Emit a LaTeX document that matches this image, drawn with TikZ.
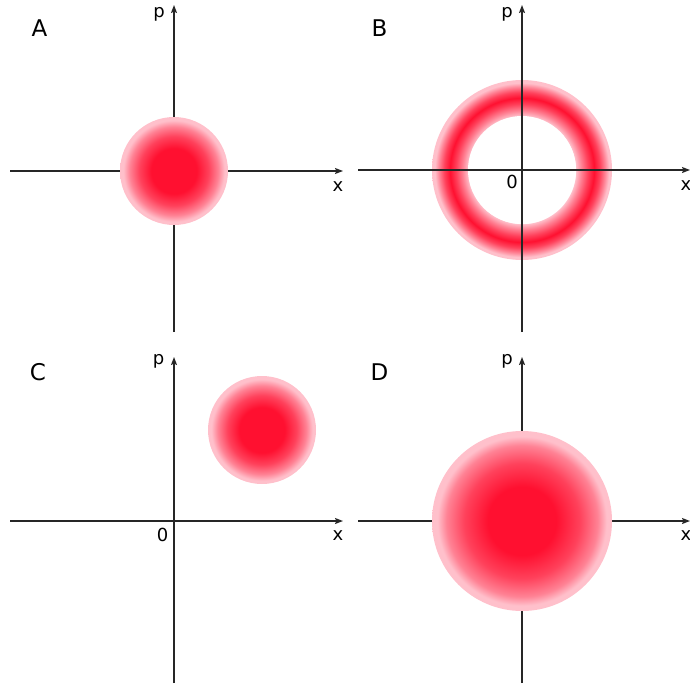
\documentclass[tikz,border=0pt]{standalone}
\usepackage{fontspec}
\setmainfont{DejaVu Sans}
\usetikzlibrary{arrows.meta}
\definecolor{cred}{RGB}{255,16,48}
\definecolor{cpink}{RGB}{255,192,203}
\colorlet{cmidA}{cred!72!cpink}
\colorlet{cmidB}{cred!35!cpink}
\pgfdeclareradialshading{blobsmall}{\pgfpoint{0bp}{0bp}}{color(0bp)=(cred); color(10.5bp)=(cred); color(16bp)=(cmidA); color(20.5bp)=(cmidB); color(23.5bp)=(cpink); color(25bp)=(cpink); color(50bp)=(cpink)}
\pgfdeclareradialshading{blobbig}{\pgfpoint{0bp}{0bp}}{color(0bp)=(cred); color(9.5bp)=(cred); color(16bp)=(cmidA); color(21bp)=(cmidB); color(23.5bp)=(cpink); color(25bp)=(cpink); color(50bp)=(cpink)}
\pgfdeclareradialshading{ringshade}{\pgfpoint{0bp}{0bp}}{color(0bp)=(white); color(14.9bp)=(white); color(15bp)=(cpink); color(16.5bp)=(cmidB); color(18.3bp)=(cmidA); color(20bp)=(cred); color(21.6bp)=(cmidA); color(23bp)=(cmidB); color(24.2bp)=(cpink); color(25bp)=(cpink); color(50bp)=(cpink)}
\begin{document}
\begin{tikzpicture}[x=1pt,y=-1pt,
  axis/.style={draw=black!85, line width=1.5pt, -{Stealth[length=8pt,width=6pt,inset=1.5pt]}},
  lab/.style={inner sep=0pt, font=\fontsize{18}{20}\selectfont},
  big/.style={inner sep=0pt, font=\fontsize{23}{26}\selectfont}]
\useasboundingbox (0,0) rectangle (690,685);
% ---------- Panel A ----------
\coordinate (aW) at (10,171); \coordinate (aE) at (343,171);
\coordinate (aS) at (174,332); \coordinate (aN) at (174,5);
\draw[axis] (aW) -- (aE);
\draw[axis] (aS) -- (aN);
\shade[shading=blobsmall] (174,171) circle (54);
\node[big] (labA) at (39.5,28.5) {A};
\node[lab] (pA) at (159,14) {p};
\node[lab] (xA) at (338,187) {x};
% ---------- Panel B ----------
\coordinate (bW) at (358,170); \coordinate (bE) at (690,170);
\coordinate (bS) at (522,332); \coordinate (bN) at (522,5);
\shade[shading=ringshade] (522,170) circle (90);
\fill[white] (522,170) circle (54);
\draw[axis] (bW) -- (bE);
\draw[axis] (bS) -- (bN);
\node[big] (labB) at (379.5,28.5) {B};
\node[lab] (pB) at (507,14) {p};
\node[lab] (xB) at (686,186) {x};
\node[lab] (zB) at (512,181.5) {0};
% ---------- Panel C ----------
\coordinate (cW) at (10,521); \coordinate (cE) at (343,521);
\coordinate (cS) at (174,683); \coordinate (cN) at (174,357);
\draw[axis] (cW) -- (cE);
\draw[axis] (cS) -- (cN);
\shade[shading=blobsmall] (262,430) circle (54);
\node[big] (labC) at (38,372) {C};
\node[lab] (pC) at (158.5,361.5) {p};
\node[lab] (xC) at (338,536) {x};
\node[lab] (zC) at (162.5,534.5) {0};
% ---------- Panel D ----------
\coordinate (dW) at (358,521); \coordinate (dE) at (690,521);
\coordinate (dS) at (522,683); \coordinate (dN) at (522,357);
\draw[axis] (dW) -- (dE);
\draw[axis] (dS) -- (dN);
\shade[shading=blobbig] (522,521) circle (90);
\node[big] (labD) at (379.5,372) {D};
\node[lab] (pD) at (507,361.5) {p};
\node[lab] (xD) at (686,536) {x};
\end{tikzpicture}
\end{document}
